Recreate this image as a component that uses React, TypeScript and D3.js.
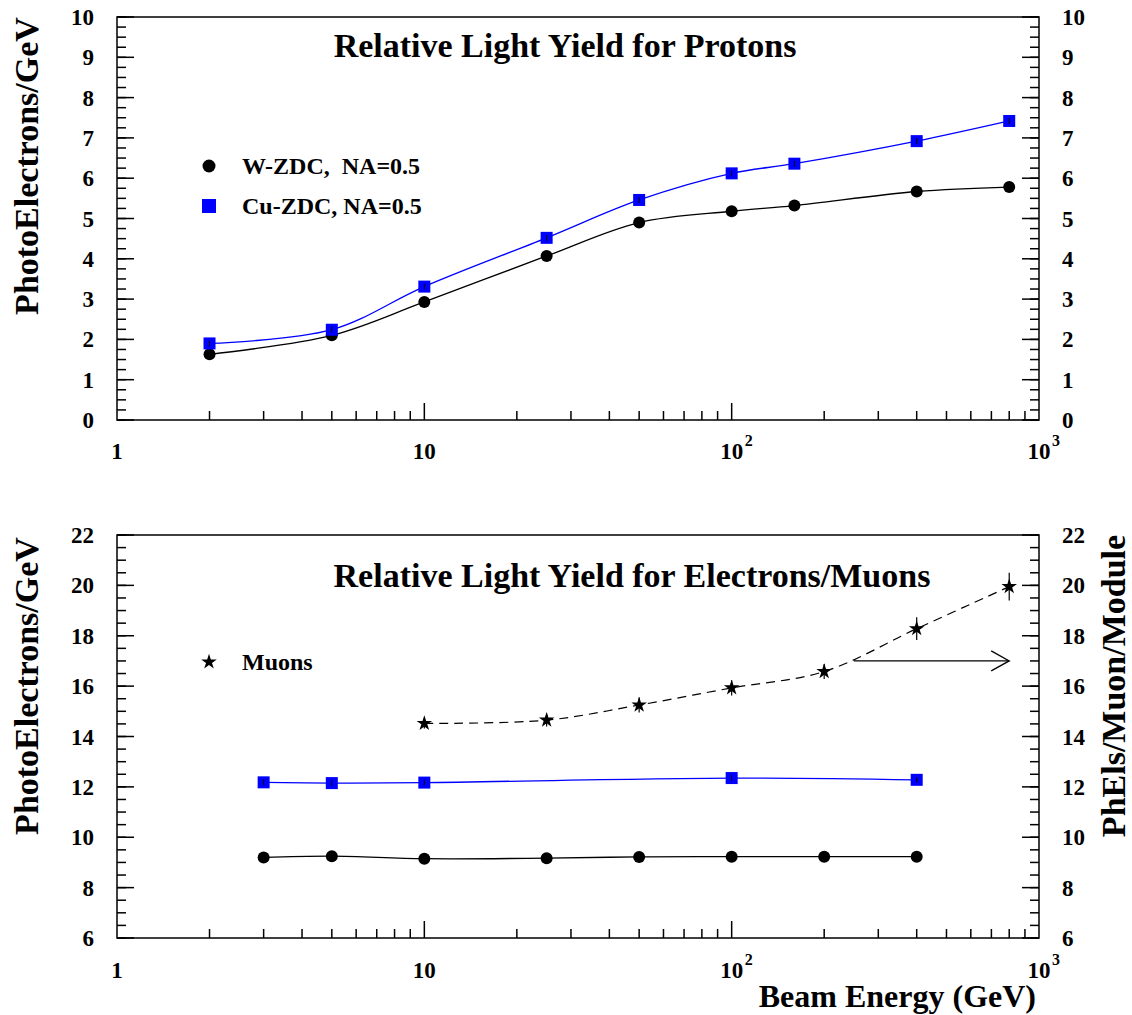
import React from "react";
import * as d3 from "d3";

// Proton beam energies (GeV) and light yields (photoelectrons / GeV)
const protonEnergy = [2, 5, 10, 25, 50, 100, 160, 400, 800];
const protonW = [1.63, 2.1, 2.93, 4.07, 4.9, 5.18, 5.32, 5.67, 5.78];
const protonCu = [1.9, 2.24, 3.31, 4.52, 5.46, 6.12, 6.36, 6.92, 7.42];

// Electron beams
const electronEnergyW = [3, 5, 10, 25, 50, 100, 200, 400];
const electronW = [9.2, 9.25, 9.15, 9.17, 9.22, 9.23, 9.23, 9.23];
const electronEnergyCu = [3, 5, 10, 100, 400];
const electronCu = [12.18, 12.15, 12.17, 12.35, 12.28];

// Muons (photoelectrons / muon / module, right-hand scale)
const muonEnergy = [10, 25, 50, 100, 200, 400, 800];
const muonYield = [14.52, 14.65, 15.25, 15.93, 16.58, 18.28, 19.95];
const muonErr = [0.2, 0.25, 0.3, 0.3, 0.3, 0.45, 0.55];

// Arrow pointing to the right-hand scale
const arrowEnergy = [250, 800];
const arrowLevel = 17;

const xTickLabels = [
  { v: 1, base: "1", sup: "" },
  { v: 10, base: "10", sup: "" },
  { v: 100, base: "10", sup: "2" },
  { v: 1000, base: "10", sup: "3" },
];

const FONT = "'Liberation Serif', 'Times New Roman', serif";
const BLUE = "#0000ff";
const LEFT = 117;
const RIGHT = 1039;

const x = d3.scaleLog().domain([1, 1000]).range([LEFT, RIGHT]);

type AxisProps = {
  y: d3.ScaleLinear<number, number>;
  top: number;
  bottom: number;
  major: number;
  minor: number;
  labelY: number;
};

function Frame({ y, top, bottom, major, minor, labelY }: AxisProps) {
  const [y0, y1] = y.domain();
  const minors = d3.range(y0, y1 + 1e-9, minor);
  const majors = d3.range(y0, y1 + 1e-9, major);
  const xMinor: number[] = [];
  [1, 10, 100].forEach((d) => {
    for (let k = 2; k <= 9; k++) xMinor.push(k * d);
  });
  const xMajor = [10, 100];
  return (
    <g stroke="#000" strokeWidth={1.5} fill="none">
      <rect x={LEFT} y={top} width={RIGHT - LEFT} height={bottom - top} />
      {minors.map((v, i) => (
        <g key={"m" + i}>
          <line x1={LEFT} x2={LEFT + 9} y1={y(v)} y2={y(v)} />
          <line x1={RIGHT} x2={RIGHT - 9} y1={y(v)} y2={y(v)} />
        </g>
      ))}
      {majors.map((v, i) => (
        <g key={"M" + i}>
          <line x1={LEFT} x2={LEFT + 17} y1={y(v)} y2={y(v)} />
          <line x1={RIGHT} x2={RIGHT - 17} y1={y(v)} y2={y(v)} />
        </g>
      ))}
      {xMinor.map((v, i) => (
        <line key={"xm" + i} x1={x(v)} x2={x(v)} y1={bottom} y2={bottom - 9} />
      ))}
      {xMajor.map((v, i) => (
        <line key={"xM" + i} x1={x(v)} x2={x(v)} y1={bottom} y2={bottom - 17} />
      ))}
      <g stroke="none" fill="#000" fontFamily={FONT} fontWeight="bold" fontSize={23}>
        {majors.map((v, i) => (
          <g key={"l" + i}>
            <text x={94} y={y(v)} dy="0.35em" textAnchor="end">
              {v}
            </text>
            <text x={1062} y={y(v)} dy="0.35em" textAnchor="start">
              {v}
            </text>
          </g>
        ))}
        {xTickLabels.map((t, i) => (
          <g key={"xl" + i}>
            <text x={x(t.v)} y={labelY} textAnchor="middle">
              {t.base}
            </text>
            {t.sup && (
              <text x={x(t.v) + 13} y={labelY - 13} fontSize={16}>
                {t.sup}
              </text>
            )}
          </g>
        ))}
      </g>
    </g>
  );
}

function smoothPath(xs: number[], ys: number[], y: d3.ScaleLinear<number, number>) {
  const line = d3
    .line<number>()
    .x((_, i) => x(xs[i]))
    .y((v) => y(v))
    .curve(d3.curveCatmullRom.alpha(0.5));
  return line(ys) || "";
}

function Circles({ xs, ys, y }: { xs: number[]; ys: number[]; y: d3.ScaleLinear<number, number> }) {
  return (
    <g>
      <path d={smoothPath(xs, ys, y)} fill="none" stroke="#000" strokeWidth={1.3} />
      {ys.map((v, i) => (
        <circle key={i} cx={x(xs[i])} cy={y(v)} r={6} fill="#000" />
      ))}
    </g>
  );
}

function Squares({ xs, ys, y }: { xs: number[]; ys: number[]; y: d3.ScaleLinear<number, number> }) {
  return (
    <g>
      <path d={smoothPath(xs, ys, y)} fill="none" stroke={BLUE} strokeWidth={1.3} />
      {ys.map((v, i) => (
        <g key={i}>
          <rect x={x(xs[i]) - 6} y={y(v) - 6} width={12} height={12} fill={BLUE} />
          <line
            x1={x(xs[i])}
            x2={x(xs[i])}
            y1={y(v) - 3}
            y2={y(v) + 3}
            stroke="#000"
            strokeWidth={1}
          />
        </g>
      ))}
    </g>
  );
}

export default function App() {
  const topY = d3.scaleLinear().domain([0, 10]).range([420, 17]);
  const botY = d3.scaleLinear().domain([6, 22]).range([938, 535]);
  const star = d3.symbol().type(d3.symbolStar).size(75)() || "";
  const arrowX0 = x(arrowEnergy[0]);
  const arrowX1 = x(arrowEnergy[1]);
  const arrowYpx = botY(arrowLevel);

  return (
    <svg
      width={1132}
      height={1015}
      style={{ position: "absolute", left: 0, top: 0, background: "#fff" }}
    >
      <rect width={1132} height={1015} fill="#fff" />

      {/* Upper panel: protons */}
      <Frame y={topY} top={17} bottom={420} major={1} minor={0.25} labelY={459} />
      <Circles xs={protonEnergy} ys={protonW} y={topY} />
      <Squares xs={protonEnergy} ys={protonCu} y={topY} />
      <text
        x={565}
        y={57}
        textAnchor="middle"
        fontFamily={FONT}
        fontWeight="bold"
        fontSize={34}
      >
        Relative Light Yield for Protons
      </text>
      <g fontFamily={FONT} fontWeight="bold" fontSize={24}>
        <circle cx={209} cy={166} r={6.5} fill="#000" />
        <text x={242} y={166} dy="0.35em" xmlSpace="preserve">
          W-ZDC,  NA=0.5
        </text>
        <rect x={202} y={199} width={14} height={14} fill={BLUE} />
        <text x={242} y={206} dy="0.35em">
          Cu-ZDC, NA=0.5
        </text>
      </g>
      <text
        transform="translate(38,166) rotate(-90)"
        textAnchor="middle"
        fontFamily={FONT}
        fontWeight="bold"
        fontSize={34}
      >
        PhotoElectrons/GeV
      </text>

      {/* Lower panel: electrons and muons */}
      <Frame y={botY} top={535} bottom={938} major={2} minor={0.5} labelY={978} />
      <Circles xs={electronEnergyW} ys={electronW} y={botY} />
      <Squares xs={electronEnergyCu} ys={electronCu} y={botY} />
      <g>
        <path
          d={smoothPath(muonEnergy, muonYield, botY)}
          fill="none"
          stroke="#000"
          strokeWidth={1.2}
          strokeDasharray="9 6"
        />
        {muonYield.map((v, i) => (
          <g key={i} transform={`translate(${x(muonEnergy[i])},${botY(v)})`}>
            <line
              x1={0}
              x2={0}
              y1={botY(v + muonErr[i]) - botY(v)}
              y2={botY(v - muonErr[i]) - botY(v)}
              stroke="#000"
              strokeWidth={1.2}
            />
            <path d={star} fill="#000" />
          </g>
        ))}
      </g>
      <g stroke="#000" strokeWidth={1.3} fill="none">
        <line x1={arrowX0} x2={arrowX1} y1={arrowYpx} y2={arrowYpx} />
        <polyline
          points={`${arrowX1 - 18},${arrowYpx - 10} ${arrowX1},${arrowYpx} ${arrowX1 - 18},${arrowYpx + 10}`}
        />
      </g>
      <text
        x={632}
        y={587}
        textAnchor="middle"
        fontFamily={FONT}
        fontWeight="bold"
        fontSize={34}
      >
        Relative Light Yield for Electrons/Muons
      </text>
      <g fontFamily={FONT} fontWeight="bold" fontSize={24}>
        <path d={star} transform="translate(209,662)" fill="#000" />
        <text x={242} y={662} dy="0.35em">
          Muons
        </text>
      </g>
      <text
        transform="translate(38,686) rotate(-90)"
        textAnchor="middle"
        fontFamily={FONT}
        fontWeight="bold"
        fontSize={34}
      >
        PhotoElectrons/GeV
      </text>
      <text
        transform="translate(1125,686) rotate(-90)"
        textAnchor="middle"
        fontFamily={FONT}
        fontWeight="bold"
        fontSize={34}
      >
        PhEls/Muon/Module
      </text>
      <text
        x={1036}
        y={1007}
        textAnchor="end"
        fontFamily={FONT}
        fontWeight="bold"
        fontSize={32}
      >
        Beam Energy (GeV)
      </text>
    </svg>
  );
}
